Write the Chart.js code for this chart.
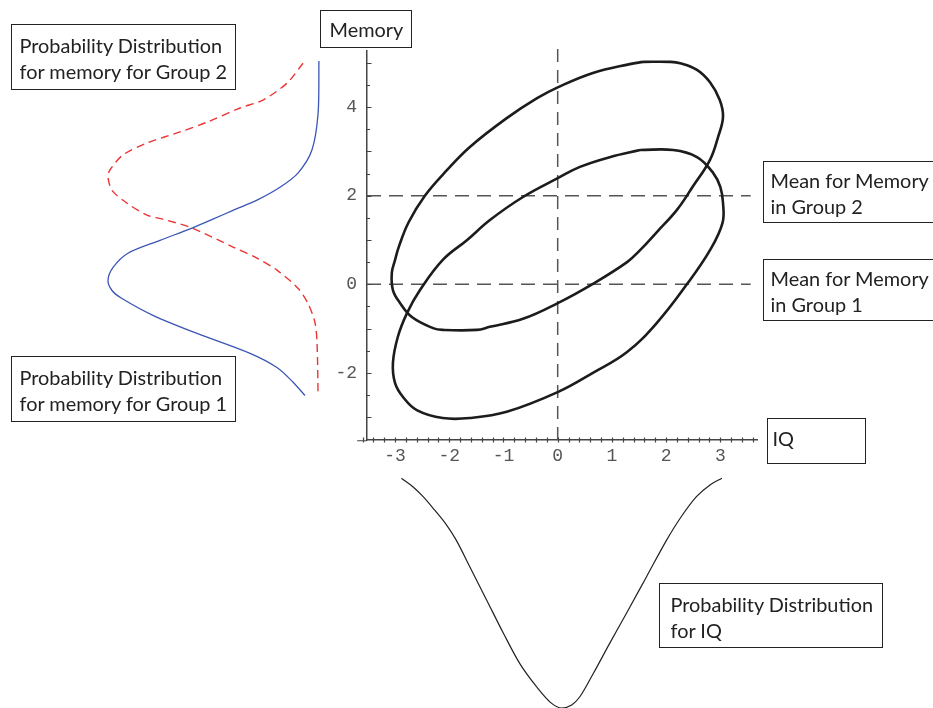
<!DOCTYPE html>
<html>
<head>
<meta charset="utf-8">
<title>IQ and memory by group</title>
<script src="https://cdn.jsdelivr.net/npm/chart.js@4.4.1/dist/chart.umd.min.js"></script>
<style>
  html, body { margin: 0; padding: 0; width: 933px; height: 708px; overflow: hidden; background: #fff; }
  #page { position: relative; width: 933px; height: 708px; }
  canvas { position: absolute; }
  .box {
    position: absolute; box-sizing: border-box; border: 1.5px solid #222;
    font-family: Lato, "Open Sans", sans-serif; font-size: 19.9px; line-height: 26px;
    color: #222; white-space: nowrap; background: transparent;
  }
</style>
</head>
<body>
<div id="page">
  <canvas id="memChart" width="235" height="355" style="left:95px;top:50px"></canvas>
  <canvas id="iqChart" width="410" height="240" style="left:352px;top:473px"></canvas>
  <canvas id="mainChart" width="933" height="708" style="left:0;top:0"></canvas>

  <div class="box" style="left:11px;top:24px;width:225px;height:66px;padding:6.5px 0 0 7.5px">Probability Distribution<br>for memory for Group 2</div>
  <div class="box" style="left:11px;top:356px;width:225px;height:66px;padding:6.5px 0 0 7.5px">Probability Distribution<br>for memory for Group 1</div>
  <div class="box" style="left:320px;top:10px;width:92px;height:38px;padding:4.5px 0 0 8.5px">Memory</div>
  <div class="box" style="left:767px;top:418px;width:99px;height:46px;padding:5.5px 0 0 4.5px">IQ</div>
  <div class="box" style="left:763px;top:161px;width:200px;height:62px;padding:4.5px 0 0 6.5px">Mean for Memory<br>in Group 2</div>
  <div class="box" style="left:763px;top:259px;width:200px;height:62px;padding:4.5px 0 0 6.5px">Mean for Memory<br>in Group 1</div>
  <div class="box" style="left:659px;top:583px;width:224px;height:65px;padding:6.5px 0 0 10.5px">Probability Distribution<br>for IQ</div>
</div>

<script>
// ---------- data ----------

// axis tick labels
var xTickLabels = [-3, -2, -1, 0, 1, 2, 3];
var yTickLabels = [-2, 0, 2, 4];

// contour for group 1 (centred on memory 0)
var group1IQ     = [1.52, 2.13, 2.57, 2.87, 3.00, 3.05, 3.04, 2.81, 2.39, 1.83, 1.28, 0.65, 0.01, -0.94, -1.62, -2.12, -2.60, -2.85, -3.00, -3.04, -2.95, -2.78, -2.54, -2.12, -1.67, -1.25, -0.64, 0.01, 0.41, 0.96, 1.52];
var group1Memory = [3.03, 3.03, 2.87, 2.51, 2.20, 1.84, 1.38, 0.77, 0.01, -0.87, -1.53, -2.00, -2.43, -2.88, -3.02, -3.02, -2.84, -2.55, -2.23, -1.78, -1.19, -0.65, -0.13, 0.55, 1.00, 1.45, 1.97, 2.40, 2.65, 2.87, 3.03];

// contour for group 2 (centred on memory 2)
var group2IQ     = [1.58, 2.07, 2.26, 2.57, 2.81, 2.99, 3.05, 2.96, 2.81, 2.49, 2.20, 1.83, 1.52, 1.28, 0.65, 0.01, -0.64, -1.25, -1.49, -2.12, -2.30, -2.69, -2.91, -3.04, -3.06, -3.00, -2.93, -2.75, -2.45, -2.04, -1.62, -0.94, -0.38, 0.01, 0.65, 1.33, 1.58];
var group2Memory = [5.02, 5.02, 4.99, 4.84, 4.56, 4.16, 3.78, 3.33, 2.81, 2.20, 1.68, 1.18, 0.77, 0.50, 0.01, -0.42, -0.78, -0.96, -1.03, -1.03, -0.99, -0.74, -0.42, -0.13, 0.26, 0.55, 0.85, 1.40, 2.00, 2.58, 3.10, 3.75, 4.20, 4.45, 4.77, 4.97, 5.02];

// dashed guide lines: means for memory and IQ
var meanMemory = [0, 2];
var meanIQ = 0;
var guideIQEnd = 3.56;
var guideMemoryTop = 5.43;

// memory distributions on the left (density drawn sideways)
var memGroup1Memory  = [5.04, 3.86, 3.03, 2.51, 2.19, 1.90, 1.67, 1.47, 1.27, 0.99, 0.70, 0.38, 0.09, -0.14, -0.32, -0.70, -1.11, -1.56, -1.88, -2.21, -2.51];
var memGroup1Density = [0.005, 0.009, 0.038, 0.104, 0.189, 0.297, 0.410, 0.505, 0.604, 0.755, 0.906, 0.976, 1.0, 0.981, 0.934, 0.788, 0.580, 0.330, 0.203, 0.127, 0.071];
var memGroup2Memory  = [4.99, 4.54, 4.16, 3.98, 3.66, 3.44, 3.19, 2.92, 2.58, 2.42, 2.12, 1.83, 1.56, 1.47, 1.27, 0.84, 0.59, 0.32, -0.09, -0.43, -0.86, -1.33, -2.51];
var memGroup2Density = [0.080, 0.156, 0.269, 0.377, 0.533, 0.660, 0.816, 0.929, 0.991, 1.0, 0.981, 0.910, 0.816, 0.741, 0.604, 0.410, 0.297, 0.203, 0.104, 0.057, 0.024, 0.014, 0.009];

// IQ distribution below (drawn hanging down)
var iqValues  = [-2.88, -2.67, -2.48, -2.27, -2.05, -1.87, -1.62, -1.31, -1.00, -0.70, -0.39, -0.11, 0.07, 0.26, 0.41, 0.66, 0.96, 1.27, 1.64, 2.01, 2.26, 2.56, 2.81, 3.03];
var iqDensity = [0.001, 0.038, 0.081, 0.139, 0.204, 0.270, 0.386, 0.530, 0.675, 0.806, 0.907, 0.980, 1.0, 0.987, 0.951, 0.849, 0.719, 0.588, 0.429, 0.270, 0.175, 0.081, 0.030, 0.001];

// ---------- helpers ----------
function toPoints(xs, ys) {
    return xs.map(function(v, i) { return { x: v, y: ys[i] }; });
}

var xMin = -3.518, xMax = 3.677, xAxisStart = -3.70;
var yMin = -3.515, yMax = 5.266;

// Mathematica style ticks: they sit on the inside of the axes
var innerTicks = {
    id: 'innerTicks',
    afterDraw: function(chart) {
        var ctx = chart.ctx, area = chart.chartArea;
        var x = chart.scales.x, y = chart.scales.y;
        ctx.save();
        ctx.strokeStyle = '#444';
        ctx.lineWidth = 1.2;
        ctx.beginPath();
        // the x axis runs a little past the y axis on the left
        ctx.moveTo(x.getPixelForValue(xAxisStart), area.bottom + 0.75);
        ctx.lineTo(area.left, area.bottom + 0.75);
        for (var i = -18; i <= 18; i++) {
            var px = Math.round(x.getPixelForValue(i / 5)) + 0.5;
            ctx.moveTo(px, area.bottom - 2.5);
            ctx.lineTo(px, area.bottom + 2.5);
        }
        for (var j = -7; j <= 10; j++) {
            var py = Math.round(y.getPixelForValue(j / 2)) + 0.5;
            var len = (j % 2 === 0) ? 4.5 : 3;
            ctx.moveTo(area.left, py);
            ctx.lineTo(area.left + len, py);
        }
        ctx.stroke();
        ctx.restore();
    }
};

var tickFont = { family: 'Liberation Mono', size: 18 };

// ---------- main plot ----------
var ellipseStyle = { showLine: true, borderColor: '#1c1c1c', borderWidth: 2.6, pointRadius: 0, tension: 0.4, fill: false };
var guideStyle = { showLine: true, borderColor: '#555', borderWidth: 1.5, borderDash: [14, 8], pointRadius: 0, tension: 0, clip: false };

new Chart(document.getElementById('mainChart'), {
    type: 'scatter',
    data: {
        datasets: [
            Object.assign({ label: 'Group 1', data: toPoints(group1IQ, group1Memory) }, ellipseStyle),
            Object.assign({ label: 'Group 2', data: toPoints(group2IQ, group2Memory) }, ellipseStyle),
            Object.assign({ label: 'Mean memory 1', data: toPoints([xMin, guideIQEnd], [meanMemory[0], meanMemory[0]]) }, guideStyle),
            Object.assign({ label: 'Mean memory 2', data: toPoints([xMin, guideIQEnd], [meanMemory[1], meanMemory[1]]) }, guideStyle),
            Object.assign({ label: 'Mean IQ', data: toPoints([meanIQ, meanIQ], [yMin, guideMemoryTop]) }, guideStyle, { borderDash: [13, 8] })
        ]
    },
    options: {
        responsive: false,
        animation: false,
        devicePixelRatio: 1,
        layout: { padding: { left: 327, right: 176, top: 51, bottom: 238 } },
        plugins: { legend: { display: false }, tooltip: { enabled: false } },
        scales: {
            x: {
                type: 'linear', min: xMin, max: xMax,
                grid: { display: false, drawTicks: false },
                border: { display: true, color: '#444', width: 1.5 },
                afterBuildTicks: function(s) { s.ticks = xTickLabels.map(function(v) { return { value: v }; }); },
                afterFit: function(s) { s.height = 30; },
                ticks: { padding: 5, color: '#555', font: tickFont, maxRotation: 0, autoSkip: false }
            },
            y: {
                type: 'linear', min: yMin, max: yMax,
                grid: { display: false, drawTicks: false },
                border: { display: true, color: '#444', width: 1.5 },
                afterBuildTicks: function(s) { s.ticks = yTickLabels.map(function(v) { return { value: v }; }); },
                afterFit: function(s) { s.width = 40; },
                ticks: { padding: 10, color: '#555', font: tickFont, autoSkip: false }
            }
        }
    },
    plugins: [innerTicks]
});

// ---------- memory distributions (left) ----------
new Chart(document.getElementById('memChart'), {
    type: 'scatter',
    data: {
        datasets: [
            { label: 'Group 1', data: toPoints(memGroup1Density, memGroup1Memory), showLine: true,
              borderColor: '#3b55b5', borderWidth: 1.3, pointRadius: 0, tension: 0.3, clip: false },
            { label: 'Group 2', data: toPoints(memGroup2Density, memGroup2Memory), showLine: true,
              borderColor: '#ec3434', borderWidth: 1.4, borderDash: [8, 5], pointRadius: 0, tension: 0.3, clip: false }
        ]
    },
    options: {
        responsive: false,
        animation: false,
        devicePixelRatio: 1,
        layout: { padding: 5 },
        plugins: { legend: { display: false }, tooltip: { enabled: false } },
        scales: {
            x: { type: 'linear', display: false, reverse: true, min: -0.0236, max: 1.0377 },
            y: { type: 'linear', display: false, min: -2.612, max: 5.176 }
        }
    }
});

// ---------- IQ distribution (below) ----------
new Chart(document.getElementById('iqChart'), {
    type: 'scatter',
    data: {
        datasets: [
            { label: 'IQ', data: toPoints(iqValues, iqDensity), showLine: true,
              borderColor: '#222', borderWidth: 1.2, pointRadius: 0, cubicInterpolationMode: 'monotone', clip: false }
        ]
    },
    options: {
        responsive: false,
        animation: false,
        devicePixelRatio: 1,
        layout: { padding: 5 },
        plugins: { legend: { display: false }, tooltip: { enabled: false } },
        scales: {
            x: { type: 'linear', display: false, min: xAxisStart, max: xMax },
            y: { type: 'linear', display: false, reverse: true, min: 0, max: 1 }
        }
    }
});
</script>
</body>
</html>
